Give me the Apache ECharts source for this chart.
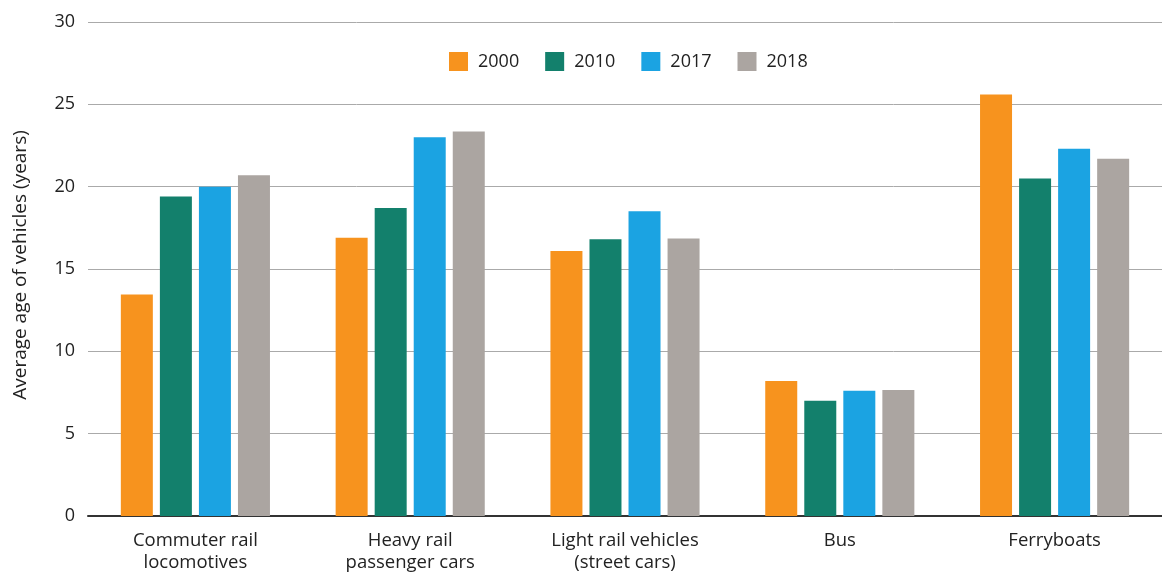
<!DOCTYPE html>
<html>
<head>
<meta charset="utf-8">
<script src="https://cdn.jsdelivr.net/npm/echarts@6/dist/echarts.min.js"></script>
<style>html,body{margin:0;padding:0;background:#fff}#c{width:1162px;height:574px}</style>
</head>
<body>
<div id="c"></div>
<script>
var categories = ['Commuter rail\nlocomotives', 'Heavy rail\npassenger cars', 'Light rail vehicles\n(street cars)', 'Bus', 'Ferryboats'];
var seriesNames = ['2000', '2010', '2017', '2018'];
var s2000 = [13.45, 16.9, 16.1, 8.2, 25.6];
var s2010 = [19.4, 18.7, 16.8, 7.0, 20.5];
var s2017 = [20.0, 23.0, 18.5, 7.6, 22.3];
var s2018 = [20.7, 23.35, 16.85, 7.65, 21.7];
var yTicks = [0, 5, 10, 15, 20, 25, 30];
var colors = ['#F7931E', '#13806C', '#1BA3E2', '#ABA5A1'];
var values = [s2000, s2010, s2017, s2018];
var font = 'Open Sans';

var chart = echarts.init(document.getElementById('c'));
chart.setOption({
  animation: false,
  color: colors,
  textStyle: {fontFamily: font},
  legend: {
    top: 47, left: 444,
    itemWidth: 19, itemHeight: 19, itemGap: 26,
    icon: 'rect',
    textStyle: {fontSize: 18, color: '#222', fontFamily: font, padding: [0, 0, 0, 5]},
    data: seriesNames
  },
  grid: {left: 88, right: 0, top: 22, bottom: 57},
  xAxis: {
    type: 'category', data: categories,
    axisLine: {lineStyle: {color: '#333', width: 2}},
    axisTick: {show: false},
    axisLabel: {fontSize: 18.5, color: '#222', margin: 14, lineHeight: 22, fontFamily: font}
  },
  yAxis: {
    type: 'value', min: yTicks[0], max: yTicks[yTicks.length - 1], interval: 5,
    name: 'Average age of vehicles (years)', nameLocation: 'middle', nameGap: 58,
    nameTextStyle: {fontSize: 19, color: '#222', fontFamily: font, padding: [0, 0, 0, 8]},
    axisLine: {show: false}, axisTick: {show: false},
    axisLabel: {fontSize: 18, color: '#222', margin: 13, fontFamily: font},
    splitLine: {lineStyle: {color: '#aaa', width: 1}}
  },
  series: seriesNames.map(function (n, i) {
    return {name: n, type: 'bar', data: values[i], barWidth: 32, barGap: '22%'};
  })
});
</script>
</body>
</html>
